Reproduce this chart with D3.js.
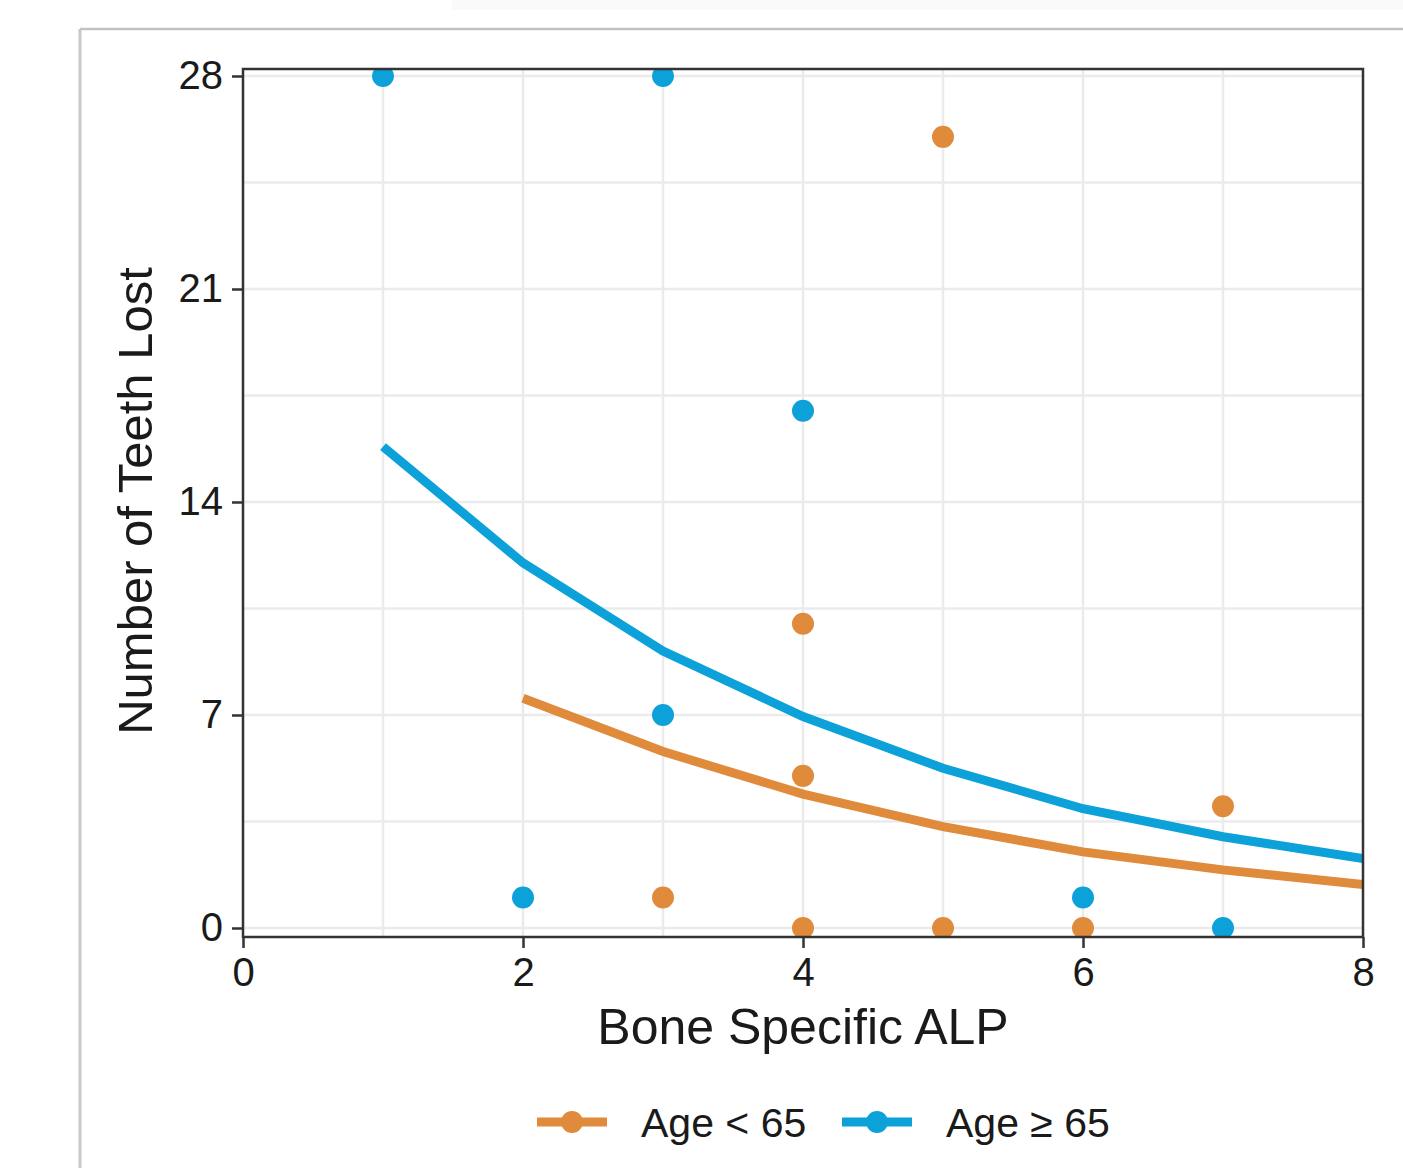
<!DOCTYPE html>
<html>
<head>
<meta charset="utf-8">
<script src="https://cdn.jsdelivr.net/npm/d3@7"></script>
<style>
  body { margin: 0; background: #fff; }
  text { font-family: "Liberation Sans", Arial, sans-serif; fill: #1a1a1a; }
</style>
</head>
<body>
<div id="container"></div>
<script>
// Observed points, Age < 65
var youngX = [5, 4, 4, 7, 3, 4, 5, 6];
var youngY = [26, 10, 5, 4, 1, 0, 0, 0];

// Observed points, Age >= 65
var oldX = [1, 3, 4, 3, 2, 6, 7];
var oldY = [28, 28, 17, 7, 1, 1, 0];

// Fitted curves
var youngFitX = [2, 3, 4, 5, 6, 7, 8];
var youngFitY = [7.55, 5.8, 4.4, 3.33, 2.5, 1.91, 1.43];
var oldFitX = [1, 2, 3, 4, 5, 6, 7, 8];
var oldFitY = [15.82, 12.0, 9.1, 6.95, 5.25, 3.92, 3.0, 2.28];

var xTicks = [0, 2, 4, 6, 8];
var yTicks = [0, 7, 14, 21, 28];
var xGrid = [1, 2, 3, 4, 5, 6, 7];
var yGrid = [0, 3.5, 7, 10.5, 14, 17.5, 21, 24.5, 28];

var legendLabels = ["Age < 65", "Age \u2265 65"];
var colors = ["#e08a3c", "#0ca2d9"];

var width = 1403;
var height = 1168;
var panel = {left: 243, right: 1363, top: 69, bottom: 937};

var svg = d3.select("#container")
            .append("svg")
            .attr("width", width)
            .attr("height", height)

// Page frame around the figure
svg.append("rect")
   .attr("x", 452).attr("y", 0)
   .attr("width", width - 452).attr("height", 10)
   .attr("fill", "#fafafa")
svg.append("line")
   .attr("x1", 80).attr("x2", width).attr("y1", 29).attr("y2", 29)
   .attr("stroke", "#c2c2c2").attr("stroke-width", 2.5)
svg.append("line")
   .attr("x1", 80).attr("x2", 80).attr("y1", 29).attr("y2", height)
   .attr("stroke", "#c8c8c8").attr("stroke-width", 3)

var xScale = d3.scaleLinear()
               .domain([0, 8])
               .range([panel.left, panel.right])

var yScale = d3.scaleLinear()
               .domain([-0.296, 28.23])
               .range([panel.bottom, panel.top])

svg.append("clipPath")
   .attr("id", "clip")
   .append("rect")
   .attr("x", panel.left).attr("y", panel.top)
   .attr("width", panel.right - panel.left)
   .attr("height", panel.bottom - panel.top)

// Grid lines
svg.append("g").selectAll("line")
   .data(xGrid)
   .enter()
   .append("line")
   .attr("x1", (d) => xScale(d)).attr("x2", (d) => xScale(d))
   .attr("y1", panel.top).attr("y2", panel.bottom)
   .attr("stroke", "#ebebeb").attr("stroke-width", 2.5)

svg.append("g").selectAll("line")
   .data(yGrid)
   .enter()
   .append("line")
   .attr("y1", (d) => yScale(d)).attr("y2", (d) => yScale(d))
   .attr("x1", panel.left).attr("x2", panel.right)
   .attr("stroke", "#ebebeb").attr("stroke-width", 2.5)

var plot = svg.append("g").attr("clip-path", "url(#clip)")

var line = d3.line()
             .x((d) => xScale(d[0]))
             .y((d) => yScale(d[1]))

plot.append("path")
    .datum(d3.zip(youngFitX, youngFitY))
    .attr("d", line)
    .attr("fill", "none")
    .attr("stroke", colors[0])
    .attr("stroke-width", 9)

plot.append("path")
    .datum(d3.zip(oldFitX, oldFitY))
    .attr("d", line)
    .attr("fill", "none")
    .attr("stroke", colors[1])
    .attr("stroke-width", 9)

plot.selectAll("youngPt")
    .data(d3.zip(youngX, youngY))
    .enter()
    .append("circle")
    .attr("cx", (d) => xScale(d[0]))
    .attr("cy", (d) => yScale(d[1]))
    .attr("r", 11)
    .attr("fill", colors[0])

plot.selectAll("oldPt")
    .data(d3.zip(oldX, oldY))
    .enter()
    .append("circle")
    .attr("cx", (d) => xScale(d[0]))
    .attr("cy", (d) => yScale(d[1]))
    .attr("r", 11)
    .attr("fill", colors[1])

// Panel border
svg.append("rect")
   .attr("x", panel.left).attr("y", panel.top)
   .attr("width", panel.right - panel.left)
   .attr("height", panel.bottom - panel.top)
   .attr("fill", "none")
   .attr("stroke", "#333")
   .attr("stroke-width", 2.5)

// Axes
var xAxis = d3.axisBottom(xScale).tickValues(xTicks).tickSize(11).tickPadding(10)
var yAxis = d3.axisLeft(yScale).tickValues(yTicks).tickSize(11).tickPadding(9)

var gx = svg.append("g")
            .attr("transform", "translate(0," + panel.bottom + ")")
            .call(xAxis)
var gy = svg.append("g")
            .attr("transform", "translate(" + panel.left + ",0)")
            .call(yAxis)

;[gx, gy].forEach(function(g) {
  g.select(".domain").remove()
  g.selectAll(".tick line").attr("stroke", "#333").attr("stroke-width", 2.5)
  g.selectAll(".tick text")
   .attr("fill", "#222")
   .style("font-size", "40px")
   .style("font-family", "'Liberation Sans', Arial, sans-serif")
})

// Axis titles
svg.append("text")
   .attr("x", 803)
   .attr("y", 1044)
   .attr("text-anchor", "middle")
   .style("font-size", "50px")
   .text("Bone Specific ALP")

svg.append("text")
   .attr("transform", "translate(152,501) rotate(-90)")
   .attr("text-anchor", "middle")
   .style("font-size", "49px")
   .text("Number of Teeth Lost")

// Legend
var legendX = [537, 842];
var legend = svg.append("g")
                .selectAll("g")
                .data(legendLabels)
                .enter()
                .append("g")
                .attr("transform", (d, i) => "translate(" + legendX[i] + ",1122)")

legend.append("line")
      .attr("x1", 0).attr("x2", 70)
      .attr("stroke", (d, i) => colors[i])
      .attr("stroke-width", 9)
legend.append("circle")
      .attr("cx", 35).attr("r", 11)
      .attr("fill", (d, i) => colors[i])
legend.append("text")
      .attr("x", 104)
      .attr("y", 15)
      .style("font-size", "41px")
      .text((d) => d)
</script>
</body>
</html>
